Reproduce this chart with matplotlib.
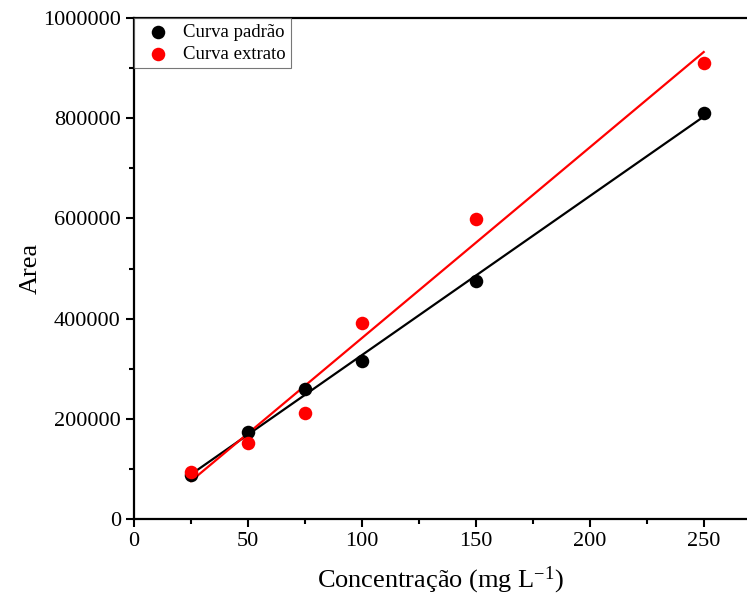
import numpy as np
import matplotlib
matplotlib.use("Agg")
import matplotlib.pyplot as plt
from matplotlib.ticker import MultipleLocator, ScalarFormatter

plt.rcParams['font.family'] = ['Liberation Serif', 'DejaVu Serif']
plt.rcParams['mathtext.fontset'] = 'custom'
plt.rcParams['mathtext.rm'] = 'Liberation Serif'

conc = [25, 50, 75, 100, 150, 250]
area_padrao = [87800, 173600, 259500, 315400, 475000, 810000]
area_extrato = [93800, 151700, 211600, 391200, 598800, 910000]

fig = plt.figure(figsize=(7.47, 6.07), dpi=100)
ax = fig.add_axes([0.1794, 0.145, 0.8206, 0.8253])

x = np.array(conc, dtype=float)
for y, color, label in [(area_padrao, 'black', 'Curva padrão'),
                        (area_extrato, 'red', 'Curva extrato')]:
    ax.scatter(conc, y, s=95, color=color, label=label, zorder=3, linewidths=0)
    m, b = np.polyfit(x, y, 1)
    ax.plot([x.min(), x.max()], [m * x.min() + b, m * x.max() + b],
            color=color, lw=1.6, zorder=2)

ax.set_xlim(0, 269)
ax.set_ylim(0, 1000000)
ax.xaxis.set_major_locator(MultipleLocator(50))
ax.xaxis.set_minor_locator(MultipleLocator(25))
ax.yaxis.set_major_locator(MultipleLocator(200000))
ax.yaxis.set_minor_locator(MultipleLocator(100000))
fmt = ScalarFormatter(useOffset=False)
fmt.set_scientific(False)
ax.yaxis.set_major_formatter(fmt)
ax.tick_params(which='major', direction='out', length=6, width=1.5, labelsize=16)
ax.tick_params(which='minor', direction='out', length=3.5, width=1.5)

for s in ['left', 'bottom', 'top']:
    ax.spines[s].set_linewidth(1.6)
ax.spines['right'].set_visible(False)

ax.set_xlabel('Concentração (mg L$\\mathrm{^{-1}}$)', fontsize=19, labelpad=10)
ax.set_ylabel('Area', fontsize=19, labelpad=1)

leg = ax.legend(loc='upper left', borderaxespad=0, fontsize=13.5, frameon=True,
                fancybox=False, handletextpad=0.3, borderpad=0.3,
                labelspacing=0.25, scatterpoints=1)
leg.get_frame().set_edgecolor('#555555')
leg.get_frame().set_linewidth(0.8)

fig.savefig('out.png', dpi=100)
